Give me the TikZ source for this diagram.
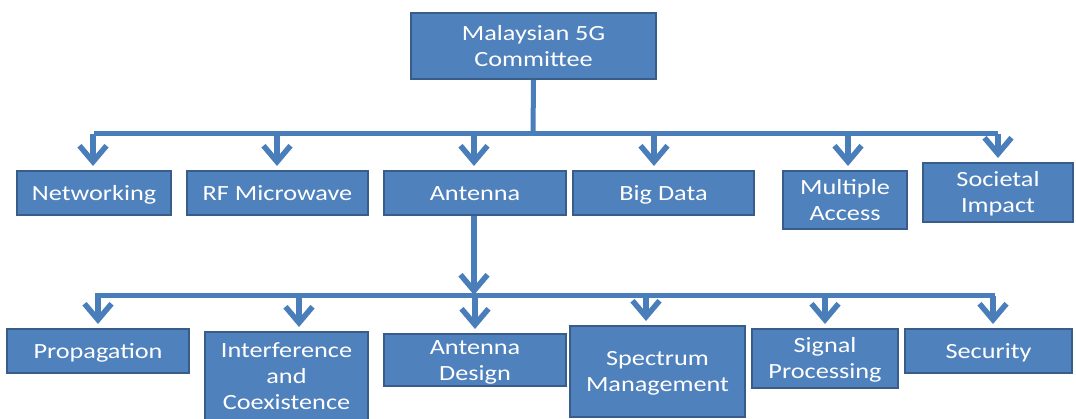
\documentclass[tikz,border=0pt]{standalone}
\usepackage{fontspec}
\setmainfont{Carlito}
\usepackage{graphicx}
\usepackage{tikz}
\usetikzlibrary{
	arrows.meta, % for the open chevron tips
	calc
	}
\definecolor{boxblue}{HTML}{4F81BD}
\definecolor{boxedge}{HTML}{385D8A}
\definecolor{linkblue}{HTML}{4A7EBB}
% text in the boxes is set a bit wider than the font, and a little low
\newcommand{\wtxt}[1]{\raisebox{-2pt}[\height][\depth]{\scalebox{1.21}[1]{\begin{tabular}{@{}c@{}}#1\end{tabular}}}}

\begin{document}
\begin{tikzpicture}[
                x=1pt,y=-1pt,
                box/.style={rectangle,draw=boxedge,fill=boxblue,line width=2pt,
                    text=white,inner sep=0pt,
                    font=\fontsize{21.7}{26}\selectfont},
                bus/.style={draw=linkblue,line width=5pt},
                arr/.style={draw=linkblue,line width=5.5pt,shorten >=4pt,
                    -{Straight Barb[length=16pt,width=27pt]}},
            ]
                \useasboundingbox (0,0) rectangle (1076,419);

                %% Committee at the top
                \node[box,minimum width=245,minimum height=66] (mc) at (533.5,46) {\wtxt{Malaysian 5G\\Committee}};

                %% First level: working groups
                \node[box,minimum width=154,minimum height=44] (net) at (94,193) {\wtxt{Networking}};
                \node[box,minimum width=181,minimum height=44] (rf) at (277.5,193) {\wtxt{RF Microwave}};
                \node[box,minimum width=182,minimum height=44] (ant) at (475,193) {\wtxt{Antenna}};
                \node[box,minimum width=181,minimum height=44] (big) at (663.5,193) {\wtxt{Big Data}};
                \node[box,minimum width=124,minimum height=58] (mult) at (845,200) {\wtxt{Multiple\\Access}};
                \node[box,minimum width=150,minimum height=59] (soc) at (998,192.5) {\wtxt{Societal\\Impact}};

                %% Second level: under Antenna
                \node[box,minimum width=182,minimum height=44] (prop) at (98,351) {\wtxt{Propagation}};
                \node[box,minimum width=163,minimum height=89] (intf) at (286.5,376.5) {\wtxt{Interference\\and\\Coexistence}};
                \node[box,minimum width=182,minimum height=52] (adsg) at (475,360) {\wtxt{Antenna\\Design}};
                \node[box,minimum width=175,minimum height=91] (spec) at (657.5,371.5) {\wtxt{Spectrum\\Management}};
                \node[box,minimum width=146,minimum height=59] (sig) at (825,358.5) {\wtxt{Signal\\Processing}};
                \node[box,minimum width=167,minimum height=44] (sec) at (988.5,351) {\wtxt{Security}};

                % bus lines
                \coordinate (busA) at (533,134);
                \coordinate (busB) at (474,296);

                \draw[bus] (mc.south) -- (busA);
                \draw[bus] (net.north |- busA) -- (soc.north |- busA);
                \foreach \n/\dx in {net/-1,rf/-0.5,ant/-1,big/-9.5,mult/3,soc/0}
                    \draw[arr] ([xshift=\dx]\n.north |- busA) -- ([xshift=\dx]\n.north);

                \draw[arr,shorten >=1pt] ([xshift=-1]ant.south) -- (busB);
                \draw[bus] ([xshift=-3]prop.north |- busB) -- ([xshift=6.5]sec.north |- busB);
                \foreach \n/\dx in {prop/0,intf/12.5,adsg/0,spec/-11.5,sig/0,sec/4.5}
                    \draw[arr] ([xshift=\dx]\n.north |- busB) -- ([xshift=\dx]\n.north);

            \end{tikzpicture}
\end{document}
